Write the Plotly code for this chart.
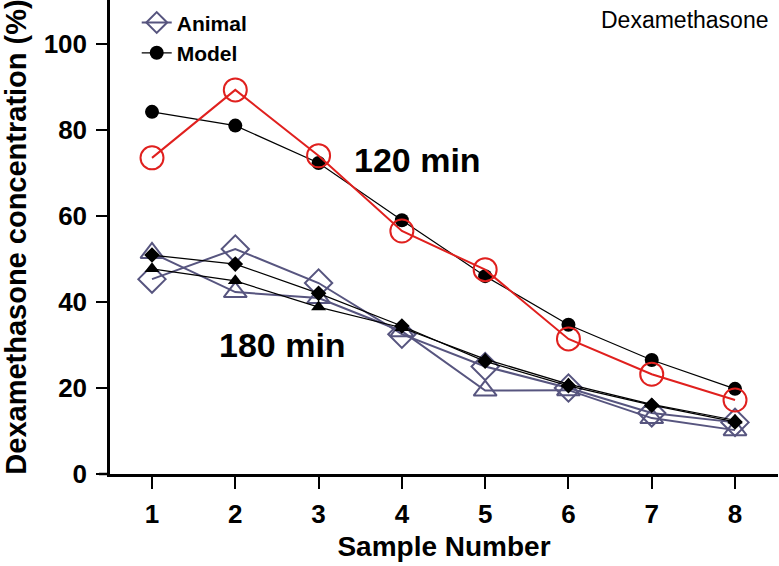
import plotly.graph_objects as go

samples = [1, 2, 3, 4, 5, 6, 7, 8]
tick_vals_y = [0, 20, 40, 60, 80, 100]

animal_120 = [73.5, 89.3, 74.0, 56.5, 47.5, 31.4, 23.2, 17.2]
model_120 = [84.2, 81.0, 72.3, 59.0, 46.0, 34.7, 26.5, 19.8]
animal_180_a = [45.3, 52.3, 44.4, 32.5, 25.0, 20.0, 14.2, 12.0]   # open diamonds
animal_180_b = [51.4, 42.3, 40.9, 33.2, 19.4, 19.5, 13.0, 10.2]   # open triangles
model_180_a = [50.9, 48.8, 42.0, 34.4, 26.2, 20.5, 16.0, 12.1]    # filled diamonds
model_180_b = [47.7, 44.9, 38.8, 34.0, 26.7, 20.9, 16.2, 12.5]    # filled triangles

FONT = "Arial, Liberation Sans, sans-serif"
PURPLE = "#57557f"
RED = "#e0201e"

fig = go.Figure()

# 180 min animal (open markers)
fig.add_trace(go.Scatter(x=samples, y=animal_180_b, mode="lines+markers", showlegend=False,
                         line=dict(color=PURPLE, width=2),
                         marker=dict(symbol="triangle-up-open", size=20, color=PURPLE, line=dict(width=2))))
fig.add_trace(go.Scatter(x=samples, y=animal_180_a, mode="lines+markers", name="Animal",
                         line=dict(color=PURPLE, width=2),
                         marker=dict(symbol="diamond-open", size=21, color=PURPLE, line=dict(width=2))))
# 180 min model (filled)
fig.add_trace(go.Scatter(x=samples, y=model_180_a, mode="lines+markers", showlegend=False,
                         line=dict(color="black", width=1.2),
                         marker=dict(symbol="diamond", size=12, color="black")))
fig.add_trace(go.Scatter(x=samples, y=model_180_b, mode="lines+markers", showlegend=False,
                         line=dict(color="black", width=1.2),
                         marker=dict(symbol="triangle-up", size=13, color="black")))
# 120 min
fig.add_trace(go.Scatter(x=samples, y=model_120, mode="lines+markers", name="Model",
                         line=dict(color="black", width=1.2),
                         marker=dict(symbol="circle", size=14, color="black")))
fig.add_trace(go.Scatter(x=samples, y=animal_120, mode="lines+markers", showlegend=False,
                         line=dict(color=RED, width=2),
                         marker=dict(symbol="circle-open", size=23, color=RED, line=dict(width=2))))

fig.add_annotation(x=4.19, y=73, text="120 min", showarrow=False,
                   font=dict(family=FONT, size=34, color="black", weight="bold"))
fig.add_annotation(x=2.57, y=30, text="180 min", showarrow=False,
                   font=dict(family=FONT, size=34, color="black", weight="bold"))
fig.add_annotation(x=0.9895, y=0.957, xref="paper", yref="paper", xanchor="right", yanchor="middle",
                   text="Dexamethasone", showarrow=False,
                   font=dict(family=FONT, size=23, color="black"))

# x-axis line extension to the left of the y axis
fig.add_shape(type="line", xref="paper", yref="paper", x0=-11/668, x1=0, y0=0, y1=0,
              line=dict(color="black", width=2.5))

fig.update_layout(
    width=779, height=566,
    margin=dict(l=110, r=1, t=0, b=92),
    plot_bgcolor="white", paper_bgcolor="white",
    font=dict(family=FONT, color="black"),
    legend=dict(x=0.04, y=0.995, xanchor="left", yanchor="top", bgcolor="rgba(0,0,0,0)",
                font=dict(family=FONT, size=21, color="black", weight="bold"),
                tracegroupgap=4),
    xaxis=dict(range=[0.4957, 8.516], tickvals=samples, ticks="outside", ticklen=12, tickwidth=2,
               tickcolor="black", showline=True, linewidth=2.5, linecolor="black",
               showgrid=False, zeroline=False, ticklabelstandoff=3,
               tickfont=dict(family=FONT, size=26, color="black", weight="bold"),
               title=dict(text="Sample Number", standoff=9,
                          font=dict(family=FONT, size=28, color="black", weight="bold"))),
    yaxis=dict(range=[0, 110.2], tickvals=tick_vals_y, ticks="outside", ticklen=11, tickwidth=2,
               tickcolor="black", showline=True, linewidth=2.5, linecolor="black",
               showgrid=False, zeroline=False, ticklabelstandoff=4,
               tickfont=dict(family=FONT, size=26, color="black", weight="bold"),
               title=dict(text="Dexamethasone concentration (%)", standoff=10,
                          font=dict(family=FONT, size=29, color="black", weight="bold"))),
)

fig.write_html("out.html", config={"displayModeBar": False},
               post_script="document.body.style.margin='0';")
